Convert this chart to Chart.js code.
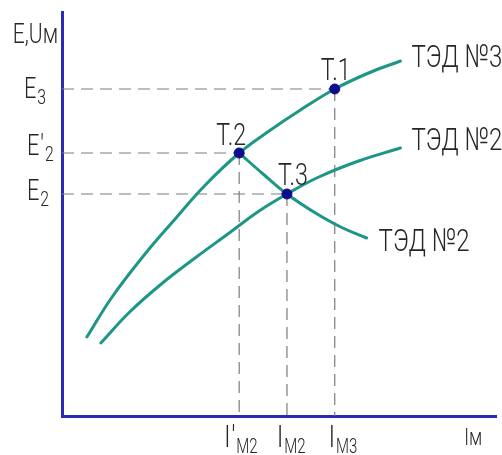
<!DOCTYPE html>
<html><head><meta charset="utf-8">
<script src="https://cdn.jsdelivr.net/npm/chart.js@4"></script>
<style>html,body{margin:0;padding:0;background:#fff}canvas{display:block}</style>
</head><body>
<canvas id="c" width="502" height="455"></canvas>
<script>
// Curve "ТЭД №3" (upper)
const ted3X = [25, 51, 85, 111, 143, 178, 208, 238, 274, 308, 340];
const ted3Y = [79, 120, 164, 194, 230, 263, 285, 305, 327, 343, 355];
// Curve "ТЭД №2" (lower, rising)
const ted2X = [39, 68, 101, 135, 168, 198, 226, 258, 298, 340];
const ted2Y = [73, 104, 133, 159, 183, 205, 222, 239, 255, 268];
// Curve "ТЭД №2" (falling, from T.2 to the right)
const fallX = [178, 202, 226, 253, 280, 306];
const fallY = [263, 242, 222, 204, 189, 178];
// Operating points T.1, T.2, T.3
const pointNames = ['Т.1', 'Т.2', 'Т.3'];
const pointX = [274, 178, 226];
const pointY = [327, 263, 222];
// Axis tick labels (main, prime, subscript)
const yTickMain = ['E', 'E', 'E'];
const yTickPrime = ['', '\u2032', ''];
const yTickSub = ['3', '2', '2'];
const yTickValues = [327, 263, 222];
const xTickMain = ['I', 'I', 'I'];
const xTickPrime = ['\u2032', '', ''];
const xTickSub = ['M2', 'M2', 'M3'];
const xTickValues = [178, 226, 274];
const axisMax = {x: 436, y: 404};

const FONT = 'Roboto,"Liberation Sans",sans-serif';
const SX = 0.75;
const TEAL = '#1c9686';
const NAVY = '#0c0c8c';
const BLUE = '#2a2ab4';
const GRAY = '#7c7c7c';
const TXT = '#262626';

const toPts = (xs, ys) => xs.map((x, i) => ({x, y: ys[i]}));

const guides = [];
pointX.forEach((px, i) => {
  guides.push([{x: 0, y: pointY[i]}, {x: px, y: pointY[i]}]);
  guides.push([{x: px, y: pointY[i]}, {x: px, y: 0}]);
});

const datasets = [];
guides.forEach(g => datasets.push({
  data: g, showLine: true, borderColor: GRAY, borderWidth: 1.2,
  borderDash: [12, 7], pointRadius: 0, order: 5
}));
[[ted3X, ted3Y], [ted2X, ted2Y], [fallX, fallY]].forEach(([xs, ys]) => datasets.push({
  data: toPts(xs, ys), showLine: true, borderColor: TEAL, borderWidth: 3,
  tension: 0.4, pointRadius: 0, order: 3, borderCapStyle: 'round'
}));
datasets.push({
  data: toPts(pointX, pointY), showLine: false, pointRadius: 5,
  pointBackgroundColor: NAVY, pointBorderColor: NAVY, order: 1
});

// draws horizontally condensed text; returns drawn width
function narrow(ctx, text, x, y, size, align) {
  ctx.font = '300 ' + size + 'px ' + FONT;
  const w = ctx.measureText(text).width * SX;
  let x0 = x;
  if (align === 'center') x0 = x - w / 2;
  else if (align === 'right') x0 = x - w;
  ctx.save();
  ctx.translate(x0, y);
  ctx.scale(SX, 1);
  ctx.textAlign = 'left';
  ctx.textBaseline = 'alphabetic';
  ctx.fillText(text, 0, 0);
  ctx.restore();
  return w;
}

function subLabel(ctx, x, y, main, prime, sub, mainSize, subSize, subDy) {
  let w = narrow(ctx, main, x, y, mainSize);
  if (prime) w += narrow(ctx, prime, x + w + 1, y, mainSize) + 1;
  narrow(ctx, sub, x + w + 1, y + subDy, subSize);
}

const labelPlugin = {
  id: 'labels',
  afterDatasetsDraw(chart) {
    const ctx = chart.ctx;
    const xs = chart.scales.x, ys = chart.scales.y;
    const X = v => xs.getPixelForValue(v), Y = v => ys.getPixelForValue(v);
    ctx.save();
    ctx.fillStyle = TXT;
    // y axis title
    narrow(ctx, 'E,Uм', X(0) - 4, Y(373), 28, 'right');
    // y tick labels
    const yOff = [-38, -35, -35];
    const yBase = [9, 2, 6];
    yTickValues.forEach((v, i) => {
      subLabel(ctx, X(0) + yOff[i], Y(v) + yBase[i],
        yTickMain[i], yTickPrime[i], yTickSub[i], 29, 21, 6);
    });
    // x tick labels
    const xOff = [-15, -10, -6];
    xTickValues.forEach((v, i) => {
      subLabel(ctx, X(v) + xOff[i], Y(0) + 31,
        xTickMain[i], xTickPrime[i], xTickSub[i], 31, 20, 6);
    });
    narrow(ctx, 'Iм', X(404), Y(0) + 29, 24);
    // point labels
    const pOff = [[1, -9], [-8, -8], [6, -9]];
    pointNames.forEach((n, i) => {
      narrow(ctx, n, X(pointX[i]) + pOff[i][0], Y(pointY[i]) + pOff[i][1], 31, 'center');
    });
    // curve labels
    const l3 = ted3X.length - 1, l2 = ted2X.length - 1, lf = fallX.length - 1;
    narrow(ctx, 'ТЭД №3', X(ted3X[l3]) + 11, Y(ted3Y[l3]) + 6, 32);
    narrow(ctx, 'ТЭД №2', X(ted2X[l2]) + 11, Y(ted2Y[l2]) + 2, 32);
    narrow(ctx, 'ТЭД №2', X(fallX[lf]) + 12, Y(fallY[lf]) + 13, 32);
    ctx.restore();
  }
};

new Chart(document.getElementById('c'), {
  type: 'scatter',
  data: {datasets},
  options: {
    responsive: false, animation: false, devicePixelRatio: 1,
    layout: {padding: {left: 62, top: 12, right: 4, bottom: 39}},
    plugins: {legend: {display: false}, tooltip: {enabled: false}},
    scales: {
      x: {type: 'linear', min: 0, max: axisMax.x,
        grid: {display: false, drawTicks: false}, ticks: {display: false},
        border: {display: true, color: BLUE, width: 3}},
      y: {type: 'linear', min: 0, max: axisMax.y,
        grid: {display: false, drawTicks: false}, ticks: {display: false},
        border: {display: true, color: BLUE, width: 3}}
    }
  },
  plugins: [labelPlugin]
});
</script>
</body></html>
